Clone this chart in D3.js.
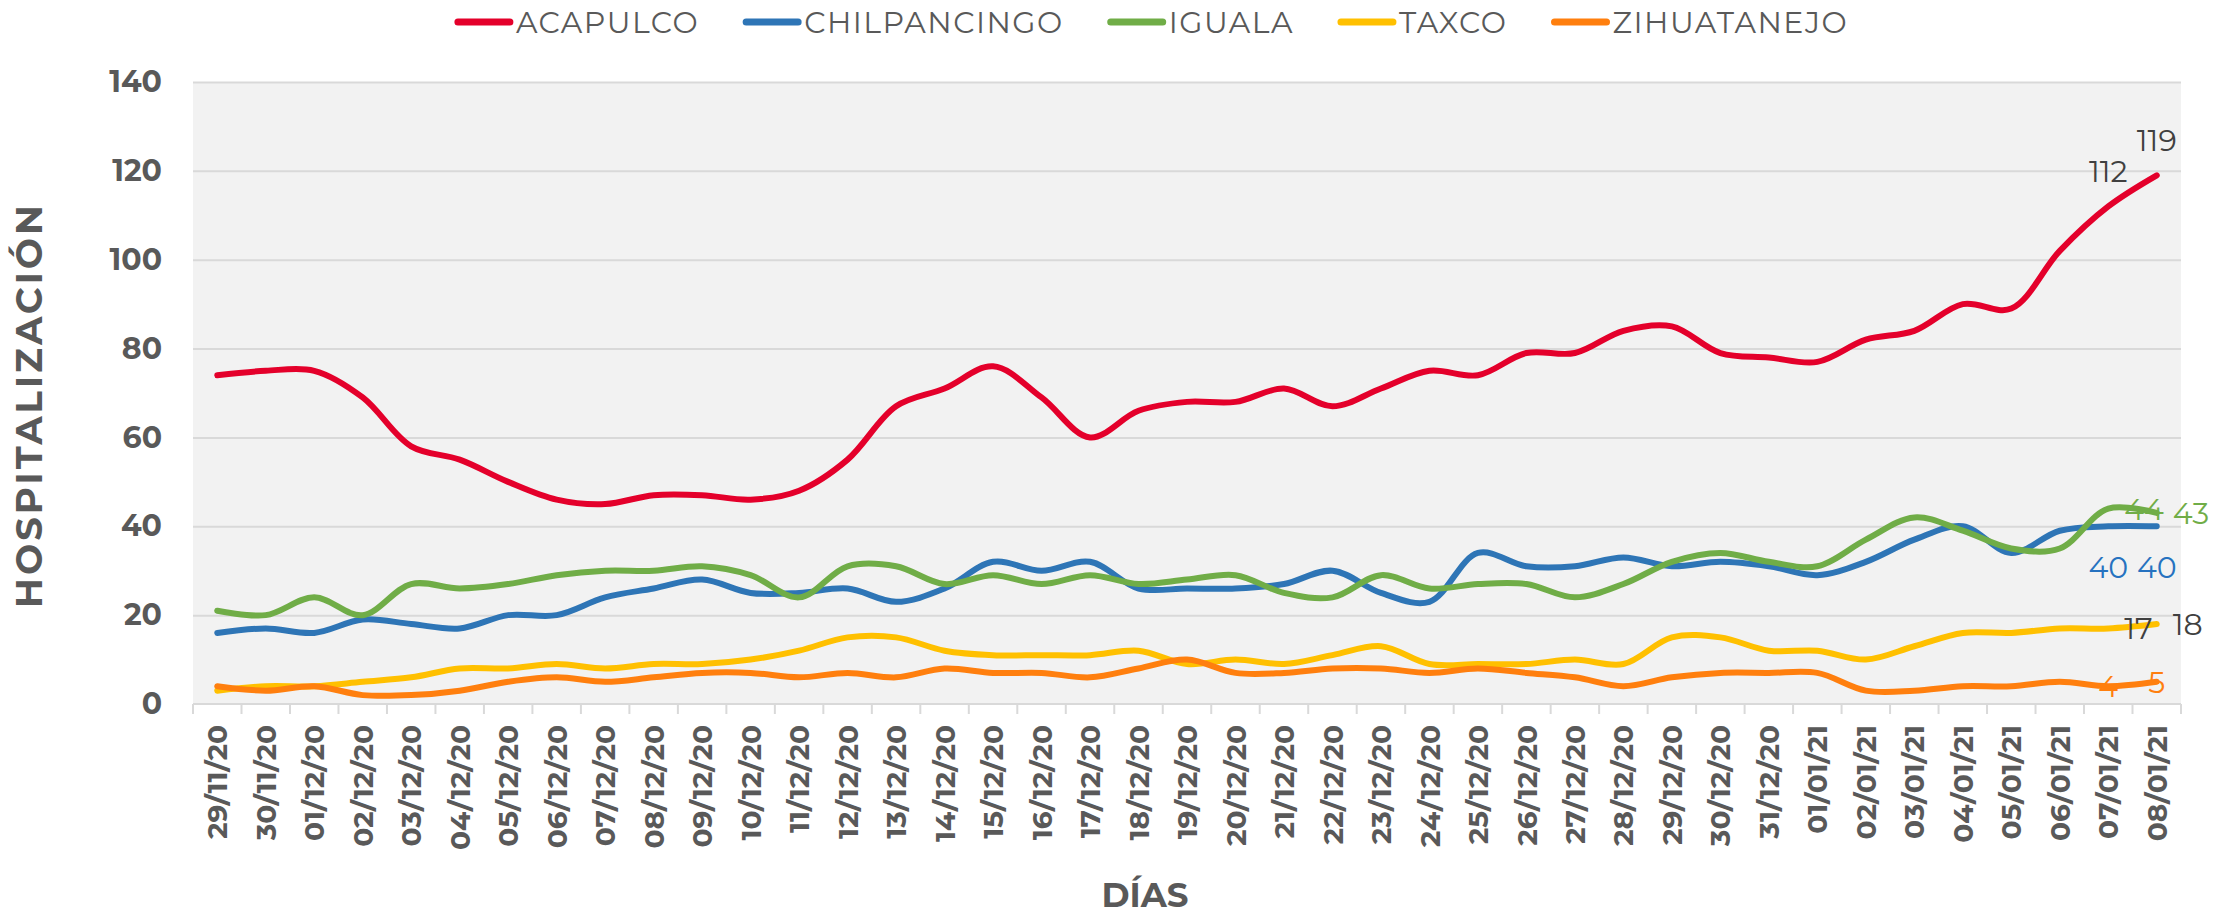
<!DOCTYPE html>
<html>
<head>
<meta charset="utf-8">
<script src="https://cdn.jsdelivr.net/npm/d3@7/dist/d3.min.js"></script>
<style>
  body { margin: 0; background: #ffffff; }
  text { font-family: Montserrat, "Noto Sans", sans-serif; }
</style>
</head>
<body>
<div class="layout"></div>
<script>

// dates on the x axis
var dias = ["29/11/20", "30/11/20", "01/12/20", "02/12/20", "03/12/20", "04/12/20",
  "05/12/20", "06/12/20", "07/12/20", "08/12/20", "09/12/20", "10/12/20", "11/12/20",
  "12/12/20", "13/12/20", "14/12/20", "15/12/20", "16/12/20", "17/12/20", "18/12/20",
  "19/12/20", "20/12/20", "21/12/20", "22/12/20", "23/12/20", "24/12/20", "25/12/20",
  "26/12/20", "27/12/20", "28/12/20", "29/12/20", "30/12/20", "31/12/20", "01/01/21",
  "02/01/21", "03/01/21", "04/01/21", "05/01/21", "06/01/21", "07/01/21", "08/01/21"];

// hospitalizations per city
var acapulco = [74, 75, 75, 69, 58, 55, 50, 46, 45, 47, 47, 46, 48, 55, 67, 71, 76, 69, 60, 66,
  68, 68, 71, 67, 71, 75, 74, 79, 79, 84, 85, 79, 78, 77, 82, 84, 90, 89, 102, 112, 119];
var chilpancingo = [16, 17, 16, 19, 18, 17, 20, 20, 24, 26, 28, 25, 25, 26, 23, 26, 32, 30, 32, 26,
  26, 26, 27, 30, 25, 23, 34, 31, 31, 33, 31, 32, 31, 29, 32, 37, 40, 34, 39, 40, 40];
var iguala = [21, 20, 24, 20, 27, 26, 27, 29, 30, 30, 31, 29, 24, 31, 31, 27, 29, 27, 29, 27,
  28, 29, 25, 24, 29, 26, 27, 27, 24, 27, 32, 34, 32, 31, 37, 42, 39, 35, 35, 44, 43];
var taxco = [3, 4, 4, 5, 6, 8, 8, 9, 8, 9, 9, 10, 12, 15, 15, 12, 11, 11, 11, 12,
  9, 10, 9, 11, 13, 9, 9, 9, 10, 9, 15, 15, 12, 12, 10, 13, 16, 16, 17, 17, 18];
var zihuatanejo = [4, 3, 4, 2, 2, 3, 5, 6, 5, 6, 7, 7, 6, 7, 6, 8, 7, 7, 6, 8,
  10, 7, 7, 8, 8, 7, 8, 7, 6, 4, 6, 7, 7, 7, 3, 3, 4, 4, 5, 4, 5];

var ciudades = ["ACAPULCO", "CHILPANCINGO", "IGUALA", "TAXCO", "ZIHUATANEJO"];
var colores = ["#E4002B", "#2E75B6", "#70AD47", "#FFC000", "#FF7F0E"];
var yTicks = [0, 20, 40, 60, 80, 100, 120, 140];

// which points carry a value label and where
var labelPos = ["above", "below", "right", "right", "center"];
var labelColor = ["#404040", "#2672C0", "#70AD47", "#404040", "#FF7F0E"];
var labelIdx = [39, 40];

function makeChart() {
  var width = 2221
  var height = 915
  var left = 193, right = 2181, top = 82, bottom = 704

  var series = [acapulco, chilpancingo, iguala, taxco, zihuatanejo].map(function (values, i) {
    return { name: ciudades[i], color: colores[i], values: values }
  });

  var svg = d3.select("div.layout")
    .append("svg")
    .attr("width", width)
    .attr("height", height);

  const x = d3.scaleBand()
    .domain(dias)
    .range([left, right]);

  const y = d3.scaleLinear()
    .domain([0, 140])
    .range([bottom, top]);

  function cx(i) { return x(dias[i]) + x.bandwidth() / 2 }

  // plot background
  svg.append("rect")
    .attr("x", left)
    .attr("y", top)
    .attr("width", right - left)
    .attr("height", bottom - top)
    .attr("fill", "#F2F2F2");

  // gridlines
  svg.append("g")
    .attr("class", "grid")
    .attr("transform", "translate(" + left + ",0)")
    .call(d3.axisLeft(y).tickValues(yTicks.slice(1)).tickSize(-(right - left)).tickFormat(""))
    .call(function (g) { g.select(".domain").remove() })
    .selectAll("line")
    .attr("stroke", "#D9D9D9")
    .attr("stroke-width", 2);

  // y labels
  svg.append("g")
    .attr("class", "yAxis")
    .attr("transform", "translate(" + left + ",0)")
    .call(d3.axisLeft(y).tickValues(yTicks).tickSize(0).tickPadding(31))
    .call(function (g) { g.select(".domain").remove() })
    .selectAll("text")
    .attr("fill", "#595959")
    .style("font-size", "30px")
    .style("font-weight", "bold");

  // x axis line and category ticks
  var xAxis = svg.append("g")
    .attr("class", "xAxis")
    .attr("transform", "translate(0," + bottom + ")");

  xAxis.append("line")
    .attr("x1", left)
    .attr("x2", right)
    .attr("stroke", "#D9D9D9")
    .attr("stroke-width", 2);

  xAxis.selectAll("line.tick")
    .data(dias.concat(["end"]))
    .enter()
    .append("line")
    .attr("class", "tick")
    .attr("x1", function (d, i) { return i < dias.length ? x(d) : right })
    .attr("x2", function (d, i) { return i < dias.length ? x(d) : right })
    .attr("y1", 0)
    .attr("y2", 10)
    .attr("stroke", "#D9D9D9")
    .attr("stroke-width", 2);

  xAxis.selectAll("text")
    .data(dias)
    .enter()
    .append("text")
    .attr("transform", function (d) {
      return "translate(" + (x(d) + x.bandwidth() / 2) + ",21) rotate(-90)"
    })
    .attr("text-anchor", "end")
    .attr("dy", "0.36em")
    .attr("fill", "#595959")
    .style("font-size", "28px")
    .style("font-weight", "bold")
    .text(function (d) { return d });

  // the lines
  const line = d3.line()
    .x(function (d, i) { return cx(i) })
    .y(function (d) { return y(d) })
    .curve(d3.curveCatmullRom);

  svg.append("g")
    .attr("id", "lines")
    .selectAll("path")
    .data(series)
    .enter()
    .append("path")
    .attr("d", function (d) { return line(d.values) })
    .attr("fill", "none")
    .attr("stroke", function (d) { return d.color })
    .attr("stroke-width", 6)
    .attr("stroke-linecap", "round")
    .attr("stroke-linejoin", "round");

  // value labels on the last two days
  var labels = []
  series.forEach(function (s, k) {
    labelIdx.forEach(function (i) {
      labels.push({ i: i, v: s.values[i], pos: labelPos[k], color: labelColor[k] })
    });
  });

  svg.append("g")
    .attr("id", "labels")
    .selectAll("text")
    .data(labels)
    .enter()
    .append("text")
    .attr("x", function (d) { return d.pos === "right" ? cx(d.i) + 16 : cx(d.i) })
    .attr("y", function (d) {
      if (d.pos === "above") return y(d.v) - 24
      if (d.pos === "below") return y(d.v) + 52
      return y(d.v) + 11
    })
    .attr("text-anchor", function (d) { return d.pos === "right" ? "start" : "middle" })
    .attr("fill", function (d) { return d.color })
    .style("font-size", "30px")
    .text(function (d) { return d.v });

  // axis titles
  svg.append("text")
    .attr("transform", "translate(29,405) rotate(-90)")
    .attr("text-anchor", "middle")
    .attr("dy", "0.36em")
    .attr("fill", "#595959")
    .style("font-size", "37px")
    .style("font-weight", "bold")
    .style("letter-spacing", "3px")
    .text("HOSPITALIZACIÓN");

  svg.append("text")
    .attr("x", 1145)
    .attr("y", 907)
    .attr("text-anchor", "middle")
    .attr("fill", "#595959")
    .style("font-size", "34px")
    .style("font-weight", "bold")
    .text("DÍAS");

  makeLegend(svg, series)
};

// legend on top, centered
function makeLegend(svg, series) {
  var legend = svg.append("g").attr("id", "legend")
  var pos = 0

  var items = legend.selectAll("g")
    .data(series)
    .enter()
    .append("g");

  items.append("line")
    .attr("x1", 0)
    .attr("x2", 52)
    .attr("stroke", function (d) { return d.color })
    .attr("stroke-width", 7)
    .attr("stroke-linecap", "round");

  items.append("text")
    .attr("x", 58)
    .attr("dy", "0.36em")
    .attr("fill", "#595959")
    .style("font-size", "30px")
    .style("letter-spacing", "1.5px")
    .text(function (d) { return d.name });

  items.attr("transform", function () {
    var w = d3.select(this).select("text").node().getComputedTextLength()
    var t = "translate(" + pos + ",0)"
    pos += 58 + w + 47
    return t
  });

  var total = pos - 47
  legend.attr("transform", "translate(" + (1153 - total / 2) + ",22)")
};

makeChart()

</script>
</body>
</html>
